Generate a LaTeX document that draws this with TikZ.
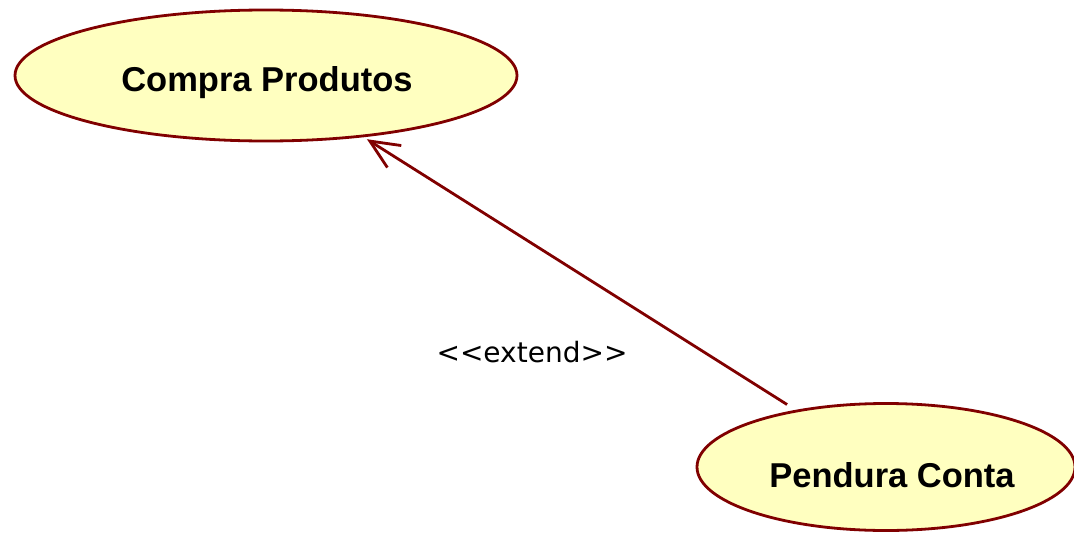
\documentclass[tikz,border=0pt]{standalone}
\usepackage{fontspec}
\setmainfont{Liberation Sans}
\newfontfamily\labelfont{DejaVu Sans}
\usetikzlibrary{shapes.geometric,arrows.meta}
\definecolor{umlborder}{HTML}{800000}
\definecolor{umlfill}{HTML}{FFFFC0}
\tikzset{
  usecase/.style={ellipse, draw=umlborder, fill=umlfill, line width=2.8pt,
    inner sep=0pt, outer sep=0pt},
  titletext/.style={font=\fontsize{34.5}{40}\selectfont\bfseries},
  extendarrow/.style={draw=umlborder, line width=2.8pt,
    -{Straight Barb[length=29pt,width=26pt,line width=2.8pt]}}
}
\begin{document}
\begin{tikzpicture}[x=1pt,y=-1pt]
\useasboundingbox (0,0) rectangle (1074,533);
\node[usecase, minimum width=502pt, minimum height=131pt] (cp) at (266,75.5) {};
\node[titletext] (cpt) at (267,83) {Compra Produtos};
\node[usecase, minimum width=378pt, minimum height=127pt] (pc) at (886,467) {};
\node[titletext] (pct) at (892,475) {Pendura Conta};
\draw[extendarrow, shorten <=12pt, shorten >=6pt] (pc) -- (cp);
\node (lbl) at (532,352) {\labelfont\fontsize{28}{32}\selectfont <{}<extend>{}>};
\end{tikzpicture}
\end{document}
